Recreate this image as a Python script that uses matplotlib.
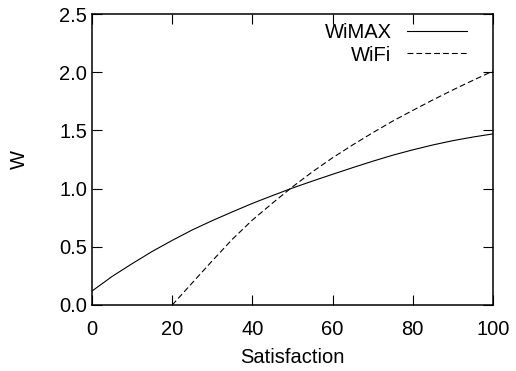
import matplotlib
matplotlib.use("Agg")
import matplotlib.pyplot as plt
from matplotlib.ticker import FormatStrFormatter

# Data
wimax_x = [0, 5, 10, 15, 20, 25, 30, 35, 40, 45, 50, 55, 60, 65, 70, 75, 80, 85, 90, 95, 100]
wimax_y = [0.12, 0.245, 0.355, 0.46, 0.555, 0.645, 0.725, 0.80, 0.873, 0.94, 1.005, 1.065,
           1.123, 1.18, 1.235, 1.287, 1.333, 1.375, 1.412, 1.443, 1.47]
wifi_x = [20, 25, 30, 35, 40, 45, 50, 55, 60, 65, 70, 75, 80, 85, 90, 95, 100]
wifi_y = [0.0, 0.19, 0.38, 0.565, 0.73, 0.875, 1.015, 1.145, 1.265, 1.375, 1.48, 1.58, 1.672,
          1.762, 1.848, 1.93, 2.01]
x_ticks = [0, 20, 40, 60, 80, 100]
y_ticks = [0.0, 0.5, 1.0, 1.5, 2.0, 2.5]
series_labels = ["WiMAX", "WiFi"]
x_label = "Satisfaction"
y_label = "W"

plt.rcParams['font.family'] = ['Liberation Sans', 'DejaVu Sans']
plt.rcParams['lines.scale_dashes'] = False
FS = 14.5

fig = plt.figure(figsize=(5.16, 3.71), dpi=100)
ax = fig.add_axes([92/516, 1 - 305/371, (493-92)/516, (305-14)/371])

l1, = ax.plot(wimax_x, wimax_y, color='black', lw=0.8, label=series_labels[0])
l2, = ax.plot(wifi_x, wifi_y, color='black', lw=0.8, dashes=(4.2, 2.2), label=series_labels[1])

ax.set_xlim(0, 100)
ax.set_ylim(0, 2.5)
ax.set_xticks(x_ticks)
ax.set_yticks(y_ticks)
ax.yaxis.set_major_formatter(FormatStrFormatter('%.1f'))
ax.tick_params(direction='in', length=7, width=0.8, top=True, right=True,
               labelsize=FS, color='black')
ax.tick_params(axis='x', pad=10.5)
ax.tick_params(axis='y', pad=3.6)
for s in ax.spines.values():
    s.set_linewidth(1.1)

ax.set_xlabel(x_label, fontsize=FS, labelpad=7)
ax.set_ylabel(y_label, fontsize=FS, labelpad=22)

common = dict(frameon=False, markerfirst=False, fontsize=FS, borderpad=0,
              borderaxespad=0, handlelength=3.0, handletextpad=0.75, loc='center right')
leg1 = ax.legend(handles=[l1], bbox_to_anchor=(0.935, 0.935), **common)
ax.add_artist(leg1)
ax.legend(handles=[l2], bbox_to_anchor=(0.935, 0.859), **common)

fig.savefig("out.png", dpi=100)
